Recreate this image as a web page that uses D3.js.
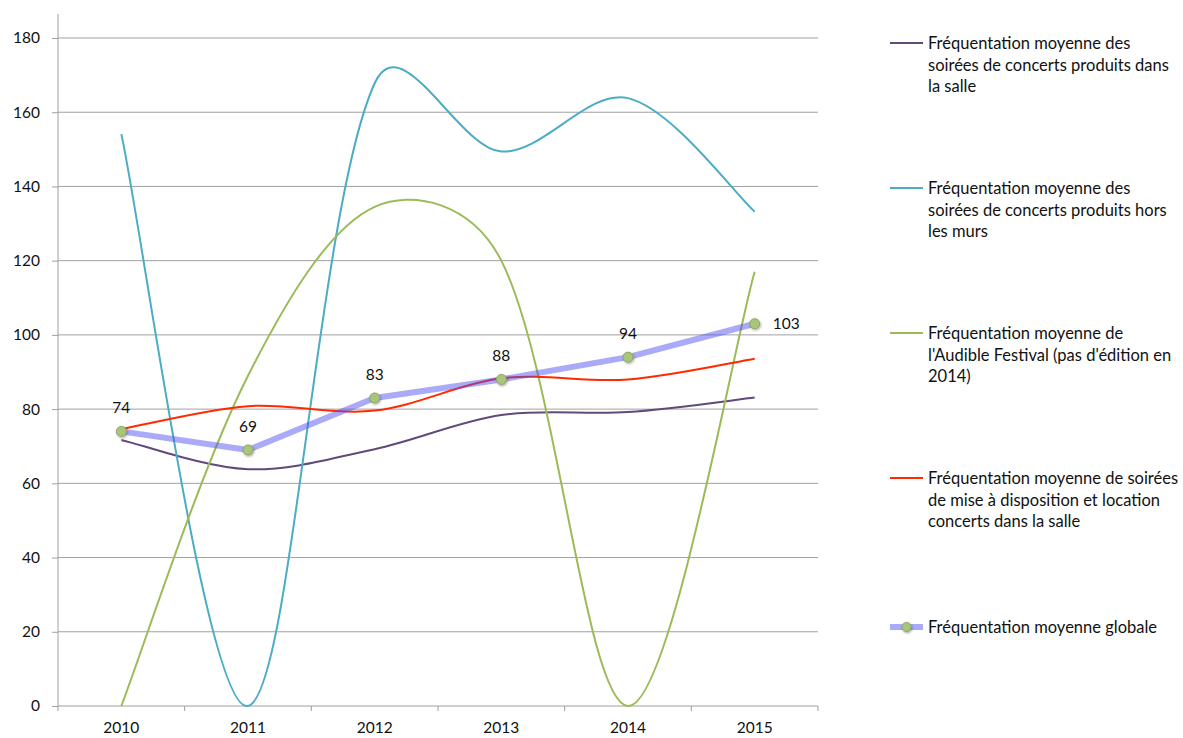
<!DOCTYPE html>
<html>
<head>
<meta charset="utf-8">
<script src="https://cdn.jsdelivr.net/npm/d3@7"></script>
<style>
  html, body { margin: 0; padding: 0; background: #fff; }
  svg { display: block; font-family: Lato, "Open Sans", sans-serif; }
</style>
</head>
<body>
<svg id="chart" width="1183" height="738"></svg>
<script>
// ---------- data ----------
const years = ["2010", "2011", "2012", "2013", "2014", "2015"];
const yTicks = [0, 20, 40, 60, 80, 100, 120, 140, 160, 180];

const salle      = [71.7, 63.8, 69.2, 78.4, 79.2, 83.1];
const horsMurs   = [154.1, 0, 167.8, 149.4, 163.8, 133.2];
const audible    = [0, 89, 134.5, 120, 0, 117];
const location_  = [74.6, 80.8, 79.6, 88.3, 88.0, 93.6];
const globale    = [74, 69, 83, 88, 94, 103];

const seriesNames = [
  ["Fréquentation moyenne des", "soirées de concerts produits dans", "la salle"],
  ["Fréquentation moyenne des", "soirées de concerts produits hors", "les murs"],
  ["Fréquentation moyenne de", "l'Audible Festival (pas d'édition en", "2014)"],
  ["Fréquentation moyenne de soirées", "de mise à disposition et location", "concerts dans la salle"],
  ["Fréquentation moyenne globale"]
];
const seriesColors = ["#604a7b", "#4bacc6", "#9bbb59", "#ff2a00"];

// ---------- layout ----------
const svg = d3.select("#chart");
const x = d3.scaleBand().domain(years).range([58, 818]);
const y = d3.scaleLinear().domain([0, 180]).range([706, 38]);
const cx = d => x(d) + x.bandwidth() / 2;
const gridColor = "#a0a0a0";

// gridlines
svg.append("g").selectAll("line").data(yTicks.filter(v => v > 0)).join("line")
  .attr("x1", 58).attr("x2", 818)
  .attr("y1", d => y(d)).attr("y2", d => y(d))
  .attr("stroke", gridColor).attr("stroke-width", 1);

// y axis
const yAxis = svg.append("g").attr("transform", "translate(58,0)")
  .call(d3.axisLeft(y).tickValues(yTicks).tickSize(6).tickPadding(12));
yAxis.select(".domain").remove();
yAxis.selectAll(".tick line").attr("stroke", gridColor);
yAxis.selectAll(".tick text").attr("font-size", 15.5).attr("fill", "#111")
  .attr("font-family", "Lato, sans-serif");
svg.append("line").attr("x1", 58).attr("x2", 58).attr("y1", 14).attr("y2", y(0))
  .attr("stroke", gridColor);

// x axis
svg.append("line").attr("x1", 58).attr("x2", 818).attr("y1", y(0)).attr("y2", y(0))
  .attr("stroke", gridColor);
const bounds = years.map(d => x(d)).concat([x(years[years.length - 1]) + x.bandwidth()]);
svg.append("g").selectAll("line").data(bounds).join("line")
  .attr("x1", d => d).attr("x2", d => d).attr("y1", y(0)).attr("y2", y(0) + 5)
  .attr("stroke", gridColor);
svg.append("g").selectAll("text").data(years).join("text")
  .attr("x", d => cx(d)).attr("y", 733).attr("text-anchor", "middle")
  .attr("font-size", 15.5).attr("fill", "#111").text(d => d);

// Excel-like smoothing (chord-weighted Catmull-Rom Bezier)
function smoothPath(vals) {
  const p = vals.map((v, i) => [cx(years[i]), y(v)]);
  const dist = (a, b) => Math.sqrt(Math.hypot(b[0] - a[0], b[1] - a[1]));
  const path = d3.path();
  path.moveTo(p[0][0], p[0][1]);
  const n = p.length;
  const outCP = [], inCP = [];
  for (let i = 0; i < n; i++) {
    const prev = p[Math.max(0, i - 1)], next = p[Math.min(n - 1, i + 1)];
    const tx = next[0] - prev[0], ty = next[1] - prev[1];
    const dp = i > 0 ? dist(p[i - 1], p[i]) : 0;
    const dn = i < n - 1 ? dist(p[i], p[i + 1]) : 0;
    if (i === 0 || i === n - 1) {
      outCP[i] = [p[i][0] + tx / 6, p[i][1] + ty / 6];
      inCP[i] = [p[i][0] - tx / 6, p[i][1] - ty / 6];
    } else {
      const s = dp + dn;
      outCP[i] = [p[i][0] + tx * dn / s / 3, p[i][1] + ty * dn / s / 3];
      inCP[i] = [p[i][0] - tx * dp / s / 3, p[i][1] - ty * dp / s / 3];
    }
  }
  for (let i = 0; i < n - 1; i++) {
    path.bezierCurveTo(outCP[i][0], outCP[i][1], inCP[i + 1][0], inCP[i + 1][1], p[i + 1][0], p[i + 1][1]);
  }
  return path.toString();
}

const smoothSeries = [salle, horsMurs, audible, location_];
svg.append("g").selectAll("path").data(smoothSeries).join("path")
  .attr("d", d => smoothPath(d))
  .attr("fill", "none")
  .attr("stroke", (d, i) => seriesColors[i])
  .attr("stroke-width", 2);

// global line
const line = d3.line().x((d, i) => cx(years[i])).y(d => y(d));
svg.append("path").datum(globale).attr("d", line)
  .attr("fill", "none").attr("stroke", "rgb(77,77,240)").attr("stroke-opacity", 0.48)
  .attr("stroke-width", 6).attr("stroke-linejoin", "round");

// markers
const defs = svg.append("defs");
const f = defs.append("filter").attr("id", "sh").attr("x", "-50%").attr("y", "-50%").attr("width", "200%").attr("height", "200%");
f.append("feDropShadow").attr("dx", 0.8).attr("dy", 1.2).attr("stdDeviation", 0.8).attr("flood-color", "#000").attr("flood-opacity", 0.35);

svg.append("g").selectAll("circle").data(globale).join("circle")
  .attr("cx", (d, i) => cx(years[i])).attr("cy", d => y(d)).attr("r", 5)
  .attr("fill", "#a9c57c").attr("stroke", "#8ba85e").attr("stroke-width", 1)
  .attr("filter", "url(#sh)");

// data labels
svg.append("g").selectAll("text").data(globale).join("text")
  .attr("x", (d, i) => i === globale.length - 1 ? cx(years[i]) + 18 : cx(years[i]))
  .attr("y", (d, i) => i === globale.length - 1 ? y(d) + 5.5 : y(d) - 18)
  .attr("text-anchor", (d, i) => i === globale.length - 1 ? "start" : "middle")
  .attr("font-size", 15.5).attr("fill", "#111").text(d => d);

// legend
const legendY = [43, 188, 333, 478, 627];
const lg = svg.append("g");
seriesNames.forEach((lines, i) => {
  const g = lg.append("g").attr("transform", `translate(0,${legendY[i]})`);
  if (i < 4) {
    g.append("line").attr("x1", 890).attr("x2", 923).attr("y1", 0).attr("y2", 0)
      .attr("stroke", seriesColors[i]).attr("stroke-width", 2);
  } else {
    g.append("line").attr("x1", 890).attr("x2", 923).attr("y1", 0).attr("y2", 0)
      .attr("stroke", "rgb(77,77,240)").attr("stroke-opacity", 0.48).attr("stroke-width", 6);
    g.append("circle").attr("cx", 906.5).attr("cy", 0).attr("r", 4.5)
      .attr("fill", "#a9c57c").attr("stroke", "#8ba85e").attr("filter", "url(#sh)");
  }
  const t = g.append("text").attr("x", 928).attr("y", 0).attr("font-size", 16.5).attr("fill", "#111");
  lines.forEach((s, j) => {
    t.append("tspan").attr("x", 928).attr("y", j * 21.5 + 6).text(s);
  });
});
</script>
</body>
</html>
